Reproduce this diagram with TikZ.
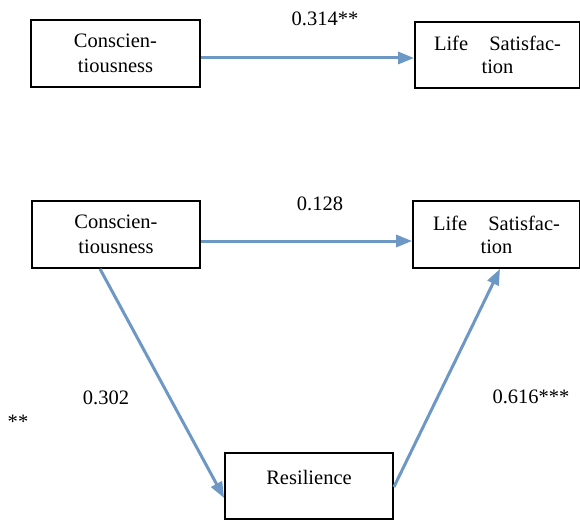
\documentclass[tikz,border=0pt]{standalone}
\usepackage{fontspec}
\setmainfont{Liberation Serif}
\usetikzlibrary{arrows.meta}
\definecolor{arrowblue}{RGB}{109,152,197}
\begin{document}
\begin{tikzpicture}[x=1pt,y=-1pt,
  box/.style={draw=black,line width=1.8pt,rectangle,inner sep=0pt,align=center,
    font=\fontsize{20.5}{25}\selectfont},
  conn/.style={draw=arrowblue,line width=3pt,-{Triangle[length=16pt,width=12pt]}},
  lbl/.style={inner sep=0pt,font=\fontsize{20.5}{25}\selectfont}]
\useasboundingbox (0,0) rectangle (580,521);
% top model
\node[box,minimum width=169pt,minimum height=67pt] (c1) at (115.5,53.5) {Conscien-\\tiousness};
\node[box,minimum width=165pt,minimum height=66pt] (l1) at (497.5,55) {\makebox[127pt]{Life\hfill Satisfac-}\\[-2pt]tion};
\draw[conn] ([yshift=-4.5pt]c1.east) -- ([yshift=-3pt]l1.west);
\node[lbl] (t1) at (325,19) {0.314**};
% bottom model
\node[box,minimum width=168pt,minimum height=67pt] (c2) at (116,234.5) {Conscien-\\tiousness};
\node[box,minimum width=167pt,minimum height=67pt] (l2) at (496.5,234.5) {\makebox[127pt]{Life\hfill Satisfac-}\\[-2pt]tion};
\node[box,minimum width=168pt,minimum height=66pt,text height=14pt,text depth=18pt] (r) at (309,486) {Resilience};
\draw[conn] ([yshift=-6.5pt]c2.east) -- ([yshift=-6.5pt]l2.west);
\draw[conn] ([xshift=-16pt]c2.south) -- ([yshift=-12pt]r.west);
\draw[conn] ([yshift=-1pt]r.east) -- ([xshift=3.5pt]l2.south);
\node[lbl] (t2) at (320,204) {0.128};
\node[lbl] (t3) at (106,398) {0.302};
\node[lbl] (t4) at (18,422) {**};
\node[lbl] (t5) at (531,397) {0.616***};
\end{tikzpicture}
\end{document}
